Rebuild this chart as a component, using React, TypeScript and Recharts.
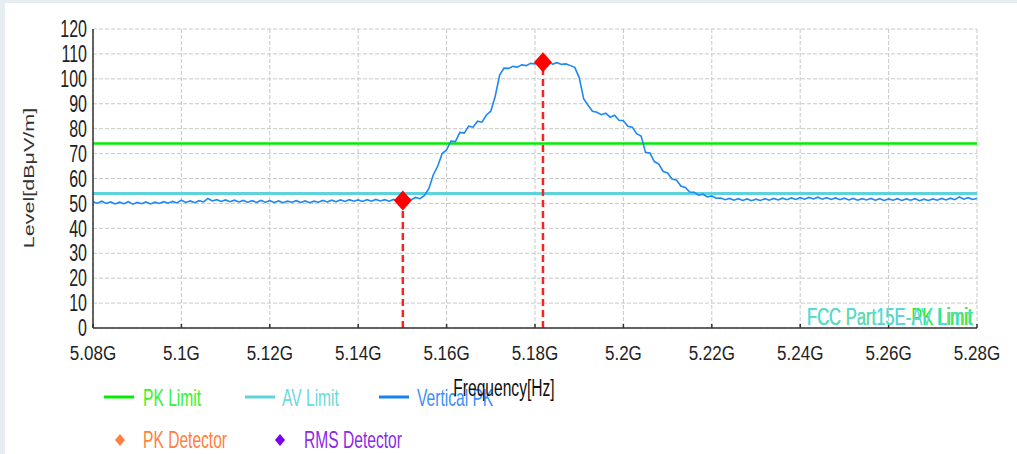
import {
    LineChart,
    Line,
    XAxis,
    YAxis,
    CartesianGrid,
    ReferenceLine,
    ReferenceDot
} from "recharts";

// sweep: 5.08 GHz .. 5.28 GHz, one reading per MHz
const freqStart = 5.08;
const freqStep = 0.001;

const levels = [
    50.7, 50.1, 50.9, 50.0, 50.6, 49.8, 50.5, 49.9, 50.7, 49.7,
    50.4, 49.9, 50.6, 49.8, 50.5, 50.0, 50.7, 50.1, 50.8, 50.2,
    51.3, 50.4, 51.0, 50.3, 51.1, 50.6, 52.0, 51.0, 51.5, 50.8,
    51.4, 50.7, 51.3, 50.6, 51.2, 50.5, 51.1, 50.4, 51.2, 50.5,
    51.1, 50.4, 51.0, 50.3, 50.9, 50.5, 51.1, 50.4, 51.0, 50.3,
    50.9, 50.5, 51.2, 50.6, 51.3, 50.7, 51.4, 50.8, 51.5, 50.9,
    51.4, 50.8, 51.5, 50.9, 51.6, 51.0, 51.5, 50.9, 51.6, 51.1,
    51.3, 51.9, 51.5, 52.4, 51.9, 53.2, 56.0, 61.5, 65.0, 70.0,
    71.5, 75.0, 74.8, 78.5, 78.2, 81.0, 80.6, 83.0, 82.6, 85.5,
    87.0, 93.0, 101.5, 104.3, 104.2, 105.0, 104.7, 105.6, 105.3, 106.2,
    106.0, 106.8, 106.2, 106.7, 105.9, 106.5, 105.8, 106.0, 105.3, 104.6,
    100.5, 92.0, 89.4, 87.0, 86.6, 85.6, 86.2, 84.6, 85.4, 83.4,
    83.2, 81.0, 80.6, 78.0, 77.0, 70.5, 70.2, 66.8, 65.8, 62.8,
    62.2, 59.8, 59.4, 57.0, 56.4, 54.6, 54.5, 53.3, 53.7, 52.6,
    53.0, 52.1, 52.2, 51.5, 52.0, 51.3, 51.9, 51.2, 51.8, 51.1,
    51.7, 51.2, 51.9, 51.3, 52.0, 51.4, 52.1, 51.5, 52.2, 51.6,
    52.3, 51.7, 52.4, 51.8, 52.5, 51.7, 52.3, 51.6, 52.2, 51.5,
    52.1, 51.4, 52.0, 51.3, 51.9, 51.4, 52.0, 51.3, 51.9, 51.2,
    51.8, 51.3, 51.9, 51.2, 51.8, 51.3, 51.9, 51.1, 51.7, 51.2,
    51.8, 51.3, 52.0, 51.4, 52.1, 51.5, 52.6, 51.7, 52.3, 51.6,
    52.0
];

const pkLimit = 74;
const avLimit = 54;

const markerFreqs = [5.1501, 5.1818];
const markerLevels = [51.2, 106.7];

const xTicks = [5.08, 5.1, 5.12, 5.14, 5.16, 5.18, 5.2, 5.22, 5.24, 5.26, 5.28];
const xTickLabels = ["5.08G", "5.1G", "5.12G", "5.14G", "5.16G", "5.18G", "5.2G", "5.22G", "5.24G", "5.26G", "5.28G"];
const yTicks = [0, 10, 20, 30, 40, 50, 60, 70, 80, 90, 100, 110, 120];

const data = levels.map((v, i) => ({
    f: +(freqStart + i * freqStep).toFixed(3),
    level: v
}));

const font = "Arial, 'Liberation Sans', sans-serif";
const axisColor = "#333";

const XTick = (props: any) => {
    const { x, y, payload } = props;
    const idx = xTicks.findIndex(t => Math.abs(t - payload.value) < 1e-6);
    return (
        <g>
            <line x1={x} y1={y} x2={x} y2={y - 4} stroke={axisColor} strokeWidth={1.5} />
            <g transform={`translate(${x},${y + 32}) scale(1,1.17)`}>
                <text x={0} y={0} textAnchor="middle" fontSize={17} fontFamily={font} fill="#222">
                    {idx >= 0 ? xTickLabels[idx] : payload.value}
                </text>
            </g>
        </g>
    );
};

const YTick = (props: any) => {
    const { x, y, payload } = props;
    return (
        <g transform={`translate(${x - 6},${y + 8.2}) scale(1,1.45)`}>
            <text x={0} y={0} textAnchor="end" fontSize={16} fontFamily={font} fill="#222">
                {payload.value}
            </text>
        </g>
    );
};

const Diamond = (props: any) => {
    const { cx, cy } = props;
    return (
        <path
            d={`M${cx},${cy - 10} L${cx + 9},${cy} L${cx},${cy + 10} L${cx - 9},${cy} Z`}
            fill="#ff0000"
        />
    );
};

const Stretched = ({ x, y, color, size = 15.6, sy = 1.5, anchor = "start", children }: any) => (
    <g transform={`translate(${x},${y}) scale(1,${sy})`}>
        <text x={0} y={0} fontSize={size} fontFamily={font} fill={color} textAnchor={anchor}>
            {children}
        </text>
    </g>
);

const Overlay = () => (
    <svg width={1017} height={454} style={{ position: "absolute", left: 0, top: 0, pointerEvents: "none" }}>
        {/* y axis title */}
        <g transform="translate(34,178) rotate(-90) scale(1.39,1)">
            <text x={0} y={0} textAnchor="middle" fontSize={15.5} fontFamily={font} fill={axisColor}>
                Level[dBμV/m]
            </text>
        </g>

        {/* limit caption, two labels drawn on top of each other */}
        <Stretched x={807} y={325} color="#22ee22" size={16.6} sy={1.43}>FCC Part15E-PK Limit</Stretched>
        <Stretched x={807} y={325} color="#5fd6de" size={16.6} sy={1.43}>FCC Part15E-AV Limit</Stretched>

        {/* legend */}
        <line x1={104} y1={397} x2={134} y2={397} stroke="#00ee00" strokeWidth={3} />
        <Stretched x={143} y={406} color="#2ef52e">PK Limit</Stretched>
        <line x1={245} y1={397} x2={275} y2={397} stroke="#5fd3dc" strokeWidth={3} />
        <Stretched x={282} y={406} color="#6ad9e0">AV Limit</Stretched>
        <line x1={379} y1={397} x2={409} y2={397} stroke="#1a7ff0" strokeWidth={3} />
        <Stretched x={417} y={406} color="#3d8ff5">Vertical PK</Stretched>

        <Stretched x={504} y={396} color="#111" sy={1.48} anchor="middle">Frequency[Hz]</Stretched>

        <path d="M120,434 L125,440 L120,446 L115,440 Z" fill="#ff7f40" />
        <Stretched x={143} y={448} color="#ff8040">PK Detector</Stretched>
        <path d="M280,434 L285,440 L280,446 L275,440 Z" fill="#7a00ee" />
        <Stretched x={304} y={448} color="#8a2be8">RMS Detector</Stretched>
    </svg>
);

const App = () => {
    return (
        <div style={{ position: "absolute", left: 0, top: 0, width: 1017, height: 454, background: "#e6eef1" }}>
            <div style={{ position: "absolute", left: 5, top: 3, right: 0, bottom: 0, background: "#fff" }} />
            <div style={{ position: "absolute", left: 0, top: 0 }}>
                <LineChart
                    width={1017}
                    height={454}
                    data={data}
                    margin={{ top: 29, right: 40, bottom: 96, left: 33 }}
                >
                    <CartesianGrid stroke="#c8c8c8" strokeDasharray="4 2" />
                    <XAxis
                        dataKey="f"
                        type="number"
                        domain={[5.08, 5.28]}
                        ticks={xTicks}
                        allowDataOverflow
                        height={30}
                        tickSize={0}
                        tickMargin={0}
                        tickLine={false}
                        tick={XTick}
                        axisLine={{ stroke: axisColor, strokeWidth: 1.5 }}
                        interval={0}
                    />
                    <YAxis
                        type="number"
                        domain={[0, 120]}
                        ticks={yTicks}
                        width={60}
                        tickSize={0}
                        tickMargin={0}
                        tickLine={false}
                        tick={YTick}
                        axisLine={{ stroke: axisColor, strokeWidth: 1.5 }}
                        interval={0}
                    />
                    <ReferenceLine y={pkLimit} stroke="#00ee00" strokeWidth={2.5} />
                    <ReferenceLine y={avLimit} stroke="#5fd3dc" strokeWidth={3} />
                    <Line
                        dataKey="level"
                        stroke="#1e88f5"
                        strokeWidth={1.6}
                        dot={false}
                        activeDot={false}
                        isAnimationActive={false}
                    />
                    {markerFreqs.map((f, i) => (
                        <ReferenceLine
                            key={"m" + i}
                            segment={[{ x: f, y: 0 }, { x: f, y: markerLevels[i] }]}
                            stroke="#ff2020"
                            strokeWidth={2.5}
                            strokeDasharray="7 4"
                        />
                    ))}
                    {markerFreqs.map((f, i) => (
                        <ReferenceDot key={"d" + i} x={f} y={markerLevels[i]} r={10} shape={Diamond} />
                    ))}
                </LineChart>
            </div>
            <Overlay />
        </div>
    );
};

export default App;
